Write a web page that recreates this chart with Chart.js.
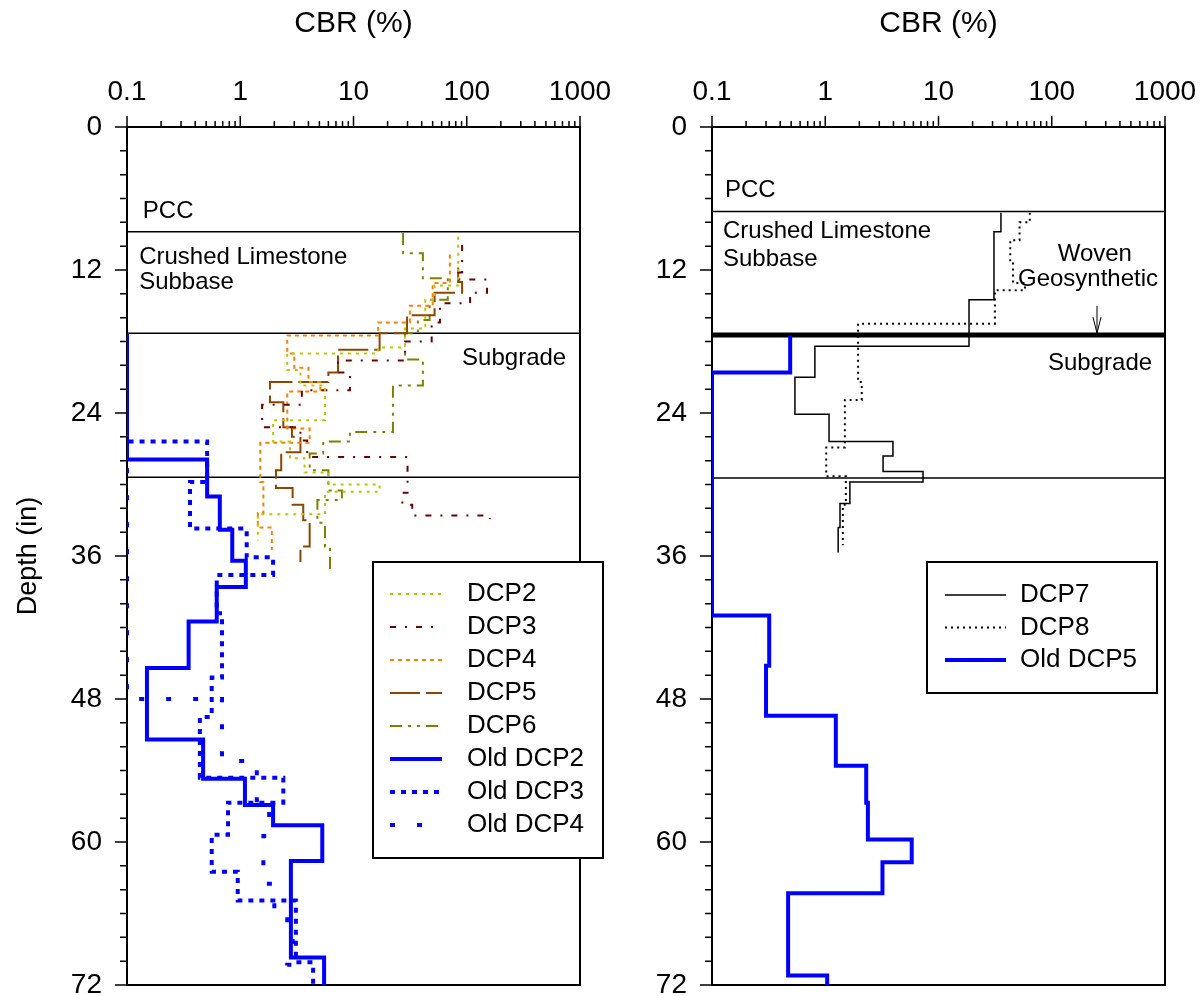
<!DOCTYPE html>
<html>
<head>
<meta charset="utf-8">
<script src="https://cdn.jsdelivr.net/npm/chart.js@4.4.1/dist/chart.umd.min.js"></script>
<style>
  html, body { margin: 0; padding: 0; background: #fff; }
  #wrap { position: relative; width: 1202px; height: 996px; }
  canvas { position: absolute; top: 0; }
  #left { left: 0; }
  #right { left: 615px; }
</style>
</head>
<body>
<div id="wrap">
  <canvas id="left" width="615" height="996"></canvas>
  <canvas id="right" width="587" height="996"></canvas>
</div>
<script>
// axis labels
const cbrLabels = [0.1, 1, 10, 100, 1000]
const depthLabels = [0, 12, 24, 36, 48, 60, 72]

// layer boundaries (in)
const leftLayers = [8.8, 17.3, 29.4]
const rightLayers = [7.1, 17.45, 29.45]

// left panel profiles: layer boundary depths (in) and CBR (%) of each layer
const dcp2Depth = [9.2, 13.3, 14.5, 16.9, 18.5, 19.0, 20.4, 21.7, 24.6, 26.4, 27.8, 29.0, 30.0, 30.6, 32.5, 34.7]
const dcp2Cbr = [84, 52, 43, 28.5, 16.5, 2.6, 3.4, 5.6, 1.95, 2.75, 3.7, 6.0, 17, 5.6, 1.43]
const dcp3Depth = [9.9, 12.2, 12.8, 13.9, 14.8, 16.4, 18.0, 19.6, 20.6, 22.1, 23.3, 25.2, 26.3, 27.7, 30.7, 31.7, 32.6, 32.9]
const dcp3Cbr = [91, 82, 151, 107, 58, 49, 28.5, 7.3, 9.3, 3.5, 1.56, 3.4, 3.9, 30, 27, 33, 160]
const dcp4Depth = [10.7, 13.1, 15.0, 16.4, 17.5, 19.0, 20.2, 21.4, 22.2, 25.3, 26.5, 29.8, 32.4, 33.6, 35.5]
const dcp4Cbr = [71, 50, 31.5, 16.5, 2.6, 3.0, 4.0, 5.1, 2.6, 4.1, 1.5, 1.6, 1.43, 1.9]
const dcp5Depth = [11.8, 13.0, 13.9, 15.8, 17.3, 18.7, 20.6, 21.4, 23.1, 25.2, 26.0, 27.3, 28.8, 30.3, 31.7, 33.0, 35.2, 36.5]
const dcp5Cbr = [84, 91, 52, 29.7, 17, 7.3, 6.0, 1.83, 2.4, 2.86, 3.4, 2.3, 2.07, 2.9, 3.6, 4.1, 3.4]
const dcp6Depth = [8.9, 10.6, 12.7, 14.5, 16.2, 17.3, 19.5, 21.7, 25.6, 26.4, 27.4, 28.8, 30.5, 31.3, 33.2, 35.2, 37.2]
const dcp6Cbr = [27.4, 41, 68, 47, 37, 28.5, 41, 22.3, 9.3, 5.4, 4.1, 6.0, 7.9, 4.8, 5.6, 6.2]
const oldDcp2Depth = [17.3, 27.9, 31.0, 33.8, 36.4, 38.6, 41.5, 45.4, 51.4, 54.7, 56.9, 58.6, 61.6, 69.7, 72]
const oldDcp2Cbr = [0.1, 0.51, 0.66, 0.85, 1.12, 0.62, 0.35, 0.15, 0.47, 1.1, 1.95, 5.3, 2.8, 5.5]
const oldDcp3Depth = [17.3, 26.4, 29.8, 33.7, 36.1, 37.6, 40.8, 46.2, 49.5, 54.6, 56.7, 59.4, 62.5, 64.9, 70.1, 72]
const oldDcp3Cbr = [0.1, 0.51, 0.36, 1.14, 1.95, 0.62, 0.69, 0.56, 0.44, 2.4, 0.78, 0.56, 0.95, 3.1, 4.4]
const oldDcp4Depth = [17.3, 48.0, 53.2, 56.5, 59.5, 63.5, 66.3, 68.0, 70.3, 72]
const oldDcp4Cbr = [0.1, 0.69, 1.4, 1.8, 1.6, 2.0, 2.6, 2.9, 2.6]

// right panel profiles
const dcp7Depth = [7.2, 8.8, 14.5, 18.4, 21.0, 24.1, 26.4, 27.6, 28.9, 29.8, 31.6, 33.6, 35.7]
const dcp7Cbr = [35.6, 30.9, 18.6, 0.81, 0.54, 1.08, 3.96, 3.24, 7.3, 1.65, 1.35, 1.30]
const dcp8Depth = [7.2, 8.0, 9.5, 11.3, 13.1, 13.7, 16.5, 21.4, 22.9, 26.9, 29.3, 31.7, 35.1]
const dcp8Cbr = [64, 52, 43, 45.5, 58, 31.5, 1.95, 2.1, 1.49, 1.02, 1.52, 1.43]
const oldDcp5Depth = [17.5, 20.6, 41.0, 45.2, 49.4, 53.6, 56.7, 59.8, 61.7, 64.3, 71.2, 72]
const oldDcp5Cbr = [0.49, 0.1, 0.32, 0.30, 1.24, 2.3, 2.38, 5.8, 3.2, 0.47, 1.04]

// tick positions: 1..9 in every decade, every 2 in of depth
const cbrMinor = []
cbrLabels.slice(0, -1).forEach(d => {
  for (let k = 1; k < 10; k++) cbrMinor.push(+(d * k).toPrecision(3))
})
cbrMinor.push(1000)
const depthMinor = Array.from({ length: 37 }, (_, i) => i * 2)

const FONT = '"Liberation Sans", Arial, sans-serif'
Chart.defaults.font.family = FONT
Chart.defaults.color = '#000'

function steps(depths, cbr) {
  const pts = []
  cbr.forEach((c, i) => {
    pts.push({ x: c, y: depths[i] })
    pts.push({ x: c, y: depths[i + 1] })
  })
  return pts
}

function profile(label, depths, cbr, color, width, dash) {
  return {
    label,
    data: steps(depths, cbr),
    borderColor: color,
    borderWidth: width,
    borderDash: dash,
    showLine: true,
    pointRadius: 0
  }
}

function layerLine(depth, width) {
  return {
    data: [{ x: 0.1, y: depth }, { x: 1000, y: depth }],
    borderColor: '#000',
    borderWidth: width,
    showLine: true,
    pointRadius: 0
  }
}

const decorations = {
  id: 'decorations',
  beforeDatasetsDraw(chart) {
    const ctx = chart.ctx
    const a = chart.chartArea
    const xs = chart.scales.x
    const ys = chart.scales.y
    ctx.save()
    // frame
    ctx.strokeStyle = '#000'
    ctx.lineWidth = 2
    ctx.strokeRect(a.left, a.top, a.right - a.left, a.bottom - a.top)
    // tick marks
    ctx.lineWidth = 1.5
    ctx.beginPath()
    xs.ticks.forEach(t => {
      const px = xs.getPixelForValue(t.value)
      const len = cbrLabels.includes(t.value) ? 11 : 6
      ctx.moveTo(px, a.top)
      ctx.lineTo(px, a.top - len)
    })
    ys.ticks.forEach(t => {
      const py = ys.getPixelForValue(t.value)
      const len = depthLabels.includes(t.value) ? 12 : 7
      ctx.moveTo(a.left, py)
      ctx.lineTo(a.left - len, py)
    })
    ctx.stroke()
    ctx.restore()
  },
  afterDraw(chart, args, opts) {
    const ctx = chart.ctx
    const xs = chart.scales.x
    const ys = chart.scales.y
    ctx.save()

    // layer names
    ctx.fillStyle = '#000'
    ctx.font = '24px ' + FONT
    ctx.textBaseline = 'middle'
    opts.notes.forEach(n => {
      ctx.textAlign = n.align
      ctx.fillText(n.text, xs.getPixelForValue(n.cbr), ys.getPixelForValue(n.depth))
    })

    // geosynthetic arrow
    if (opts.arrow) {
      const px = xs.getPixelForValue(opts.arrow.cbr)
      const y0 = ys.getPixelForValue(opts.arrow.from)
      const y1 = ys.getPixelForValue(opts.arrow.to)
      ctx.strokeStyle = '#000'
      ctx.lineWidth = 1
      ctx.beginPath()
      ctx.moveTo(px, y0)
      ctx.lineTo(px, y1)
      ctx.moveTo(px - 4, y1 - 16)
      ctx.lineTo(px, y1)
      ctx.lineTo(px + 4, y1 - 16)
      ctx.stroke()
    }

    // legend
    const L = opts.legend
    ctx.fillStyle = '#fff'
    ctx.fillRect(L.x, L.y, L.w, L.h)
    ctx.lineWidth = 2
    ctx.strokeStyle = '#000'
    ctx.strokeRect(L.x, L.y, L.w, L.h)
    ctx.font = '26px ' + FONT
    ctx.textAlign = 'left'
    let row = 0
    chart.data.datasets.forEach(ds => {
      if (!ds.label) return
      const ry = L.firstRow + row * L.rowGap
      ctx.strokeStyle = ds.borderColor
      ctx.lineWidth = ds.borderWidth
      ctx.setLineDash(ds.borderDash || [])
      ctx.beginPath()
      ctx.moveTo(L.lineX0, ry)
      ctx.lineTo(L.lineX1, ry)
      ctx.stroke()
      ctx.setLineDash([])
      ctx.fillStyle = '#000'
      ctx.fillText(ds.label, L.textX, ry)
      row++
    })
    ctx.restore()
  }
}

function buildOptions(yWidth, rightPad, showYTitle, deco) {
  return {
    responsive: false,
    animation: false,
    events: [],
    layout: { padding: { left: 0, top: 0, right: rightPad, bottom: 11 } },
    plugins: {
      legend: { display: false },
      tooltip: { enabled: false },
      decorations: deco
    },
    scales: {
      x: {
        type: 'logarithmic',
        position: 'top',
        min: 0.1,
        max: 1000,
        grid: { display: false },
        border: { display: false },
        title: { display: true, text: 'CBR (%)', font: { size: 30 }, padding: { top: 6, bottom: 0 } },
        ticks: {
          autoSkip: false,
          maxRotation: 0,
          padding: 10,
          font: { size: 28 },
          callback: v => cbrLabels.includes(v) ? String(v) : ''
        },
        afterBuildTicks: s => { s.ticks = cbrMinor.map(v => ({ value: v })) },
        afterFit: s => { s.height = 127; s.paddingLeft = 0; s.paddingRight = 0 }
      },
      y: {
        type: 'linear',
        reverse: true,
        min: 0,
        max: 72,
        grid: { display: false },
        border: { display: false },
        title: { display: showYTitle, text: 'Depth (in)', font: { size: 27 }, padding: { top: 12, bottom: 0 } },
        ticks: {
          autoSkip: false,
          padding: 17,
          font: { size: 28 },
          callback: v => depthLabels.includes(v) ? String(v) : ''
        },
        afterBuildTicks: s => { s.ticks = depthMinor.map(v => ({ value: v })) },
        afterFit: s => { s.width = yWidth; s.paddingTop = 0; s.paddingBottom = 0 }
      }
    }
  }
}

const BLUE = '#0000ff'

new Chart(document.getElementById('left'), {
  type: 'scatter',
  data: {
    datasets: [
      profile('DCP2', dcp2Depth, dcp2Cbr, '#c0c400', 2, [3, 5]),
      profile('DCP3', dcp3Depth, dcp3Cbr, '#700000', 2, [6, 9, 2, 9]),
      profile('DCP4', dcp4Depth, dcp4Cbr, '#ff8000', 2, [4, 4]),
      profile('DCP5', dcp5Depth, dcp5Cbr, '#8c4600', 2, [30, 6]),
      profile('DCP6', dcp6Depth, dcp6Cbr, '#808000', 2, [12, 6, 3, 6, 3, 6]),
      profile('Old DCP2', oldDcp2Depth, oldDcp2Cbr, BLUE, 4, []),
      profile('Old DCP3', oldDcp3Depth, oldDcp3Cbr, BLUE, 4, [5, 6]),
      profile('Old DCP4', oldDcp4Depth, oldDcp4Cbr, BLUE, 4, [5, 22]),
      ...leftLayers.map(d => layerLine(d, 1.5))
    ]
  },
  options: buildOptions(127, 35, true, {
    notes: [
      { text: 'PCC', cbr: 0.138, depth: 7.1, align: 'left' },
      { text: 'Crushed Limestone', cbr: 0.128, depth: 10.9, align: 'left' },
      { text: 'Subbase', cbr: 0.128, depth: 13.0, align: 'left' },
      { text: 'Subgrade', cbr: 91, depth: 19.4, align: 'left' }
    ],
    legend: { x: 373, y: 562, w: 230, h: 296, firstRow: 594, rowGap: 33, lineX0: 390, lineX1: 442, textX: 467 }
  }),
  plugins: [decorations]
})

new Chart(document.getElementById('right'), {
  type: 'scatter',
  data: {
    datasets: [
      profile('DCP7', dcp7Depth, dcp7Cbr, '#000', 1.5, []),
      profile('DCP8', dcp8Depth, dcp8Cbr, '#000', 2, [2, 4]),
      profile('Old DCP5', oldDcp5Depth, oldDcp5Cbr, BLUE, 4, []),
      layerLine(rightLayers[0], 1.5),
      layerLine(rightLayers[1], 5),
      layerLine(rightLayers[2], 1.5)
    ]
  },
  options: buildOptions(97, 37, false, {
    notes: [
      { text: 'PCC', cbr: 0.130, depth: 5.3, align: 'left' },
      { text: 'Crushed Limestone', cbr: 0.125, depth: 8.8, align: 'left' },
      { text: 'Subbase', cbr: 0.125, depth: 11.1, align: 'left' },
      { text: 'Woven', cbr: 240, depth: 10.7, align: 'center' },
      { text: 'Geosynthetic', cbr: 209, depth: 12.8, align: 'center' },
      { text: 'Subgrade', cbr: 267, depth: 19.8, align: 'center' }
    ],
    arrow: { cbr: 251, from: 15.0, to: 17.3 },
    legend: { x: 312, y: 562, w: 230, h: 131, firstRow: 595, rowGap: 32.5, lineX0: 330, lineX1: 391, textX: 405 }
  }),
  plugins: [decorations]
})
</script>
</body>
</html>
